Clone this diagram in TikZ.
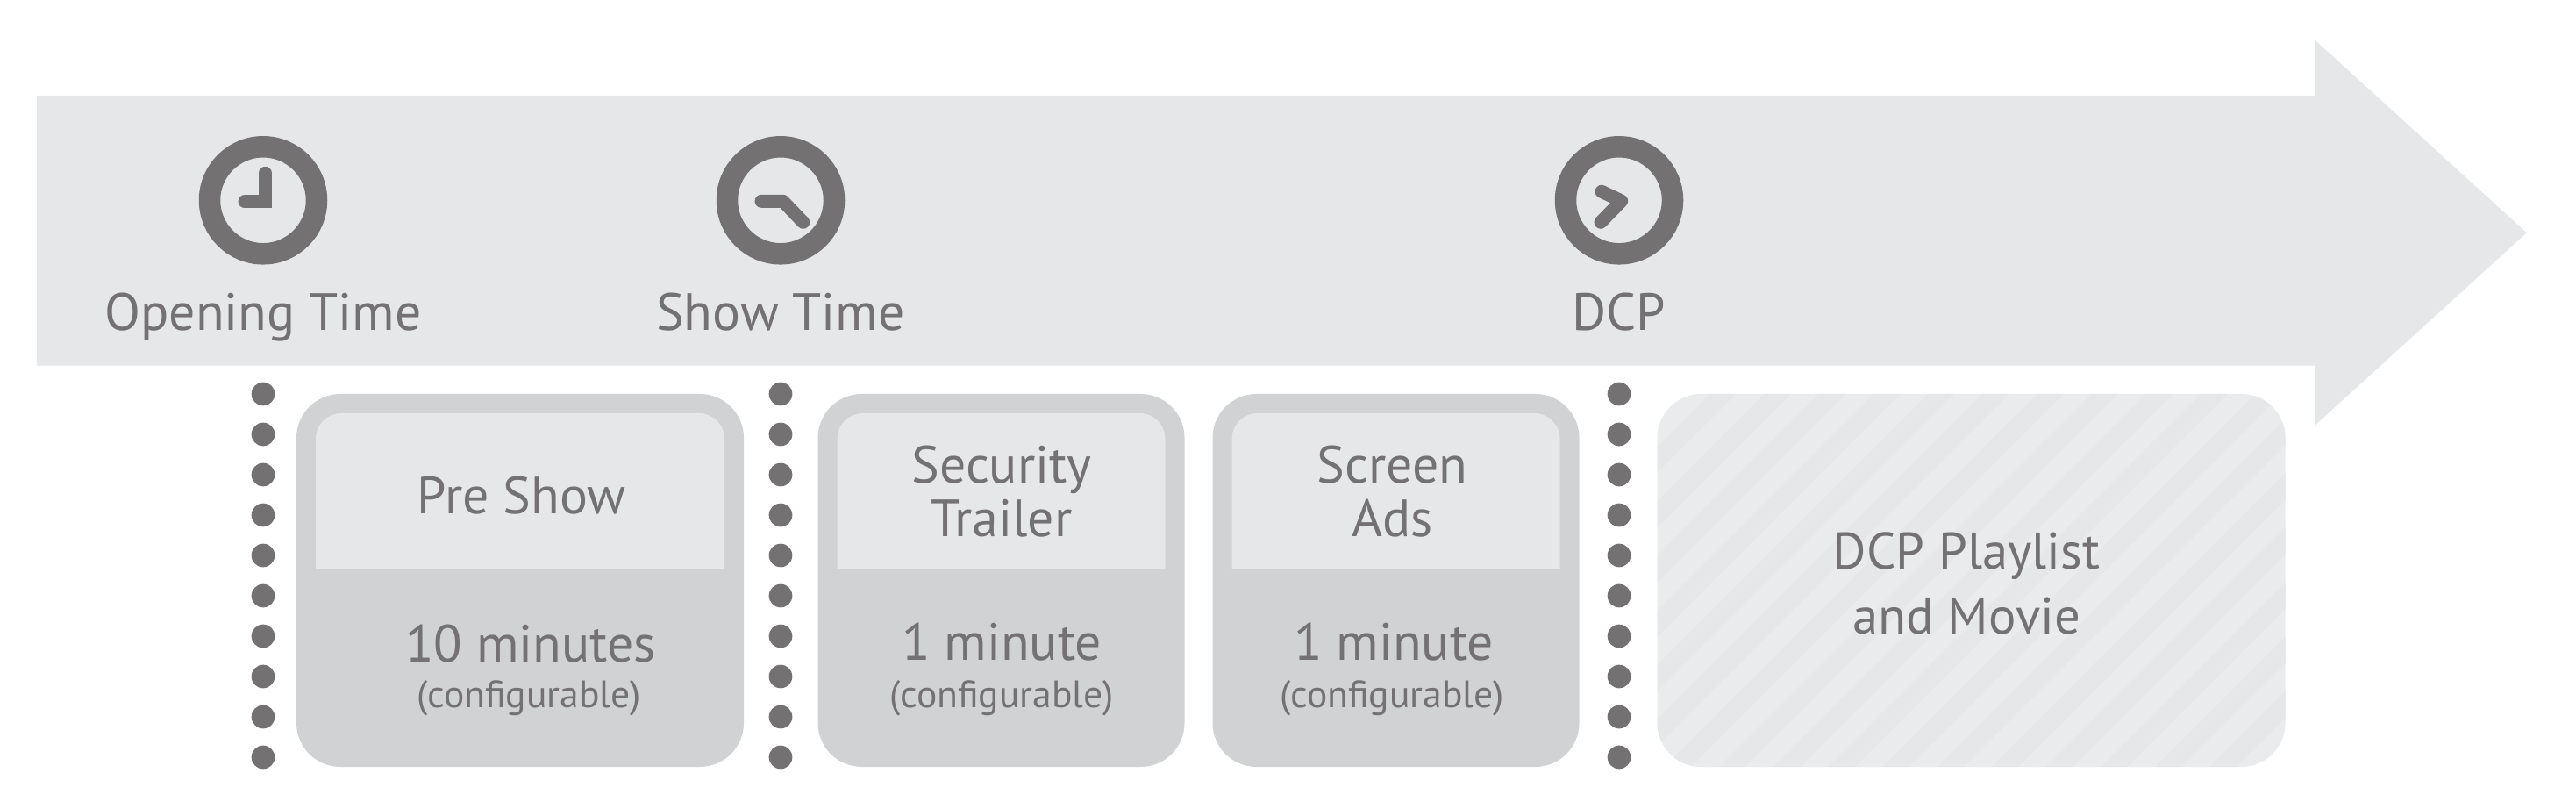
\documentclass[tikz,border=0pt]{standalone}
\usepackage{fontspec}
\setmainfont{PT Sans}
\usepackage{tikz}
\usetikzlibrary{positioning}
\definecolor{bandgrey}{HTML}{E6E7E8}
\definecolor{slotgrey}{HTML}{D1D2D4}
\definecolor{stripelight}{HTML}{EAEBED}
\definecolor{markgrey}{HTML}{737172}
\tikzset{
  clockring/.style={
    circle, draw=markgrey, line width=0.245cm, minimum size=1.22cm, inner sep=0pt
  },
  clockhand/.style={draw=markgrey, line width=0.15cm, line cap=round, line join=round},
  clocklabel/.style={text=markgrey, anchor=base, inner sep=0pt, font=\fontsize{17}{20}\selectfont},
  dotmark/.style={circle, fill=markgrey, minimum size=0.267cm, inner sep=0pt},
  slotbox/.style={
    fill=slotgrey, rounded corners=0.5cm, minimum height=4.25cm, inner sep=0pt, outer sep=0pt
  },
  moviebox/.style={
    fill=stripelight, rounded corners=0.5cm, minimum height=4.25cm, inner sep=0pt, outer sep=0pt
  },
  slotpanel/.style={fill=bandgrey},
  slotname/.style={
    text=markgrey, align=center, inner sep=0pt, font=\fontsize{17}{17.36}\selectfont
  },
  slotlength/.style={text=markgrey, anchor=base, inner sep=0pt, font=\fontsize{17}{20}\selectfont},
  slotnote/.style={text=markgrey, anchor=base, inner sep=0pt, font=\fontsize{12.4}{14}\selectfont},
  movieband/.style={fill=bandgrey}
}
\begin{document}
\begin{tikzpicture}
  \useasboundingbox (0,0) rectangle (29.37,-9.22);

  % timeline arrow
  \fill[bandgrey] (0.42,-1.09) -- (26.39,-1.09) -- (26.39,-0.453) -- (28.807,-2.653)
    -- (26.39,-4.85) -- (26.39,-4.167) -- (0.42,-4.167) -- cycle;

  % clocks
  \node[clockring] (opening)  at (3.00,-2.283) {};
  \node[clockring] (showtime) at (8.90,-2.283) {};
  \node[clockring] (dcp)      at (18.46,-2.283) {};

  \draw[clockhand, line join=miter, shift={(opening.center)}] (-0.21,-0.015) -- (0.025,-0.015) -- (0.025,0.31);
  \draw[clockhand, shift={(showtime.center)}] (-0.22,-0.01) -- (0.027,-0.01) -- (0.257,-0.25);
  \draw[clockhand, shift={(dcp.center)}] (-0.20,0.10) -- (0.027,-0.007) -- (-0.21,-0.25);

  \node[clocklabel] (openinglabel)  at ([yshift=-1.487cm]opening.center)  {Opening Time};
  \node[clocklabel] (showtimelabel) at ([yshift=-1.487cm]showtime.center) {Show Time};
  \node[clocklabel] (dcplabel)      at ([yshift=-1.487cm]dcp.center)      {DCP};

  % dotted markers
  \foreach \clock in {opening,showtime,dcp}
    \foreach \i in {0,...,9}
      \node[dotmark] (\clock-dot\i) at ([yshift={-2.207cm-\i*0.46cm}]\clock.center) {};

  % schedule boxes
  \node[slotbox, minimum width=5.10cm, anchor=north west] (preshow) at (3.38,-4.49) {};
  \node[slotbox, minimum width=4.18cm, right=0.845cm of preshow]  (security) {};
  \node[slotbox, minimum width=4.18cm, right=0.32cm of security]  (screenads) {};
  \node[moviebox, minimum width=7.16cm, right=0.89cm of screenads] (movie) {};

  \foreach \slot in {preshow,security,screenads} {
    \coordinate (\slot-sw) at ([xshift=0.22cm,yshift=-1.997cm]\slot.north west);
    \coordinate (\slot-nw) at ([xshift=0.22cm,yshift=-0.22cm]\slot.north west);
    \coordinate (\slot-ne) at ([xshift=-0.22cm,yshift=-0.22cm]\slot.north east);
    \coordinate (\slot-se) at ([xshift=-0.22cm,yshift=-1.997cm]\slot.north east);
    \fill[slotpanel] (\slot-sw) [rounded corners=0.29cm] -- (\slot-nw) -- (\slot-ne) [sharp corners] -- (\slot-se) -- cycle;
  }

  % stripes of the movie box
  \begin{scope}
    \clip[rounded corners=0.5cm] (movie.south west) rectangle (movie.north east);
    \foreach \k in {-1,...,18}
      \fill[movieband, xshift={\k*0.622cm}] (19.493,-4.49) -- (19.797,-4.49) -- (15.547,-8.74) -- (15.243,-8.74) -- cycle;
  \end{scope}

  % box texts
  \node[slotname] (preshowname) at (5.945,-5.65) {Pre Show};
  \node[slotlength] (presholen) at (6.05,-7.54) {10 minutes};
  \node[slotnote] (preshonote)  at (6.03,-8.067) {(configurable)};

  \node[slotname] (securityname) at (11.42,-5.60) {Security\\Trailer};
  \node[slotlength] (securitylen) at (11.42,-7.53) {1 minute};
  \node[slotnote] (securitynote)  at (11.42,-8.067) {(configurable)};

  \node[slotname] (screenname) at (15.875,-5.60) {Screen\\Ads};
  \node[slotlength] (screenlen) at (15.89,-7.53) {1 minute};
  \node[slotnote] (screennote)  at (15.87,-8.067) {(configurable)};

  \node[slotname, font=\fontsize{16.7}{21.25}\selectfont] (moviename) at (22.42,-6.65) {DCP Playlist\\and Movie};
\end{tikzpicture}
\end{document}
